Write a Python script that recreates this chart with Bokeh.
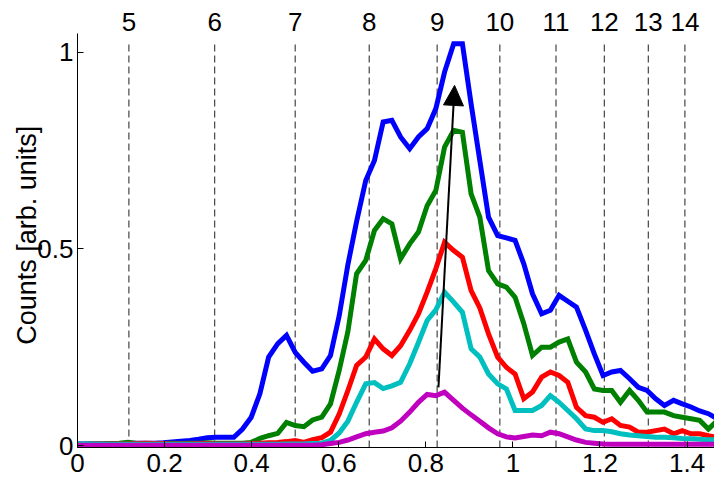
from bokeh.plotting import figure
from bokeh.models import Range1d, FixedTicker, Arrow, NormalHead
from bokeh.core.properties import value
from bokeh.embed import file_html
from bokeh.resources import INLINE

# x grid (shared by all curves)
x = [-0.005, 0.015, 0.035, 0.056, 0.076, 0.096, 0.116, 0.136, 0.157, 0.177,
     0.197, 0.217, 0.237, 0.258, 0.278, 0.298, 0.318, 0.338, 0.359, 0.379,
     0.399, 0.419, 0.439, 0.460, 0.480, 0.500, 0.520, 0.540, 0.561, 0.581,
     0.601, 0.621, 0.641, 0.662, 0.682, 0.702, 0.722, 0.742, 0.763, 0.783,
     0.803, 0.823, 0.843, 0.864, 0.884, 0.904, 0.924, 0.944, 0.965, 0.985,
     1.005, 1.025, 1.045, 1.066, 1.086, 1.106, 1.126, 1.146, 1.167, 1.187,
     1.207, 1.227, 1.247, 1.268, 1.288, 1.308, 1.328, 1.348, 1.369, 1.389,
     1.409, 1.429, 1.449, 1.470]

blue = [0.004, 0.004, 0.004, 0.004, 0.004, 0.004, 0.006, 0.006, 0.006, 0.006,
        0.007, 0.009, 0.011, 0.013, 0.016, 0.020, 0.021, 0.021, 0.021, 0.042,
        0.072, 0.132, 0.225, 0.259, 0.280, 0.237, 0.212, 0.189, 0.195, 0.229,
        0.330, 0.460, 0.570, 0.674, 0.725, 0.823, 0.827, 0.785, 0.755, 0.785,
        0.806, 0.857, 0.950, 1.022, 1.022, 0.869, 0.725, 0.581, 0.534, 0.528,
        0.522, 0.462, 0.386, 0.335, 0.344, 0.382, 0.367, 0.352, 0.293, 0.233,
        0.178, 0.187, 0.191, 0.170, 0.148, 0.140, 0.119, 0.102, 0.115, 0.106,
        0.098, 0.088, 0.081, 0.068]

green = [0.003, 0.003, 0.004, 0.004, 0.005, 0.006, 0.008, 0.005, 0.004, 0.005,
         0.005, 0.006, 0.005, 0.006, 0.006, 0.007, 0.006, 0.006, 0.006, 0.006,
         0.008, 0.018, 0.025, 0.031, 0.059, 0.051, 0.048, 0.065, 0.072, 0.106,
         0.191, 0.290, 0.437, 0.471, 0.547, 0.577, 0.564, 0.475, 0.513, 0.543,
         0.610, 0.649, 0.759, 0.802, 0.797, 0.640, 0.581, 0.445, 0.411, 0.403,
         0.377, 0.310, 0.229, 0.250, 0.250, 0.263, 0.271, 0.212, 0.187, 0.144,
         0.140, 0.140, 0.110, 0.140, 0.115, 0.085, 0.085, 0.085, 0.076, 0.072,
         0.068, 0.064, 0.042, 0.064]

red = [0.002, 0.002, 0.003, 0.003, 0.004, 0.004, 0.004, 0.005, 0.006, 0.005,
       0.005, 0.004, 0.004, 0.004, 0.005, 0.005, 0.004, 0.004, 0.004, 0.004,
       0.005, 0.006, 0.007, 0.008, 0.010, 0.013, 0.008, 0.015, 0.020, 0.034,
       0.080, 0.140, 0.204, 0.225, 0.271, 0.246, 0.229, 0.254, 0.293, 0.335,
       0.390, 0.450, 0.517, 0.496, 0.479, 0.394, 0.350, 0.284, 0.225, 0.199,
       0.182, 0.119, 0.136, 0.174, 0.187, 0.178, 0.161, 0.097, 0.076, 0.072,
       0.059, 0.068, 0.051, 0.047, 0.034, 0.034, 0.038, 0.042, 0.030, 0.038,
       0.030, 0.030, 0.025, 0.021]

cyan = [0.003, 0.003, 0.003, 0.003, 0.003, 0.003, 0.003, 0.003, 0.003, 0.003,
        0.003, 0.003, 0.003, 0.003, 0.003, 0.003, 0.003, 0.003, 0.003, 0.003,
        0.003, 0.003, 0.003, 0.003, 0.004, 0.004, 0.004, 0.005, 0.006, 0.013,
        0.032, 0.062, 0.110, 0.157, 0.160, 0.145, 0.152, 0.161, 0.208, 0.262,
        0.318, 0.345, 0.390, 0.365, 0.339, 0.246, 0.225, 0.182, 0.157, 0.144,
        0.089, 0.089, 0.089, 0.102, 0.127, 0.110, 0.089, 0.068, 0.042, 0.038,
        0.038, 0.035, 0.030, 0.027, 0.025, 0.023, 0.021, 0.021, 0.020, 0.018,
        0.017, 0.016, 0.015, 0.015]

magenta = [0.001, 0.001, 0.001, 0.001, 0.001, 0.001, 0.001, 0.001, 0.001, 0.001,
           0.001, 0.001, 0.001, 0.001, 0.001, 0.001, 0.001, 0.001, 0.001, 0.001,
           0.001, 0.001, 0.001, 0.001, 0.001, 0.001, 0.001, 0.001, 0.002, 0.005,
           0.008, 0.014, 0.022, 0.030, 0.034, 0.037, 0.045, 0.062, 0.085, 0.110,
           0.130, 0.127, 0.136, 0.115, 0.095, 0.078, 0.062, 0.045, 0.030, 0.022,
           0.019, 0.023, 0.027, 0.025, 0.034, 0.030, 0.022, 0.014, 0.008, 0.006,
           0.004, 0.003, 0.003, 0.003, 0.003, 0.003, 0.003, 0.003, 0.003, 0.003,
           0.003, 0.003, 0.003, 0.003]

series = [("#0000ff", blue), ("#008000", green), ("#ff0000", red),
          ("#00bfbf", cyan), ("#bf00bf", magenta)]

# dashed level markers and their labels
level_x = [0.118, 0.315, 0.500, 0.670, 0.826, 0.970, 1.099, 1.210, 1.311, 1.395]
level_labels = ["5", "6", "7", "8", "9", "10", "11", "12", "13", "14"]

# arrow (start -> end)
arrow_start = (0.829, 0.148)
arrow_end = (0.866, 0.916)

x_ticks = [0, 0.2, 0.4, 0.6, 0.8, 1.0, 1.2, 1.4]
x_tick_labels = ["0", "0.2", "0.4", "0.6", "0.8", "1", "1.2", "1.4"]
y_ticks = [0, 0.5, 1.0]
y_tick_labels = ["0", "0.5", "1"]
y_label = "Counts [arb. units]"

FONT = "Liberation Sans"
FSIZE = "26px"

p = figure(width=714, height=483, output_backend="svg", toolbar_location=None,
           x_range=Range1d(0, 1.463), y_range=Range1d(-0.005, 1.132),
           min_border_left=77, min_border_right=0, min_border_top=0,
           min_border_bottom=36)
p.outline_line_color = None
p.xgrid.visible = False
p.ygrid.visible = False
p.background_fill_color = "white"
p.border_fill_color = "white"

p.segment(x0=level_x, y0=[-0.005] * len(level_x), x1=level_x,
          y1=[1.03] * len(level_x), line_color="#444444", line_width=1.2,
          line_dash="7 4")

for color, ys in series:
    p.line(x, ys, line_color=color, line_width=5, line_join="miter")

p.text(x=level_x, y=[1.078] * len(level_x), text=level_labels,
       text_font=value(FONT), text_font_size=FSIZE, text_align="center",
       text_baseline="middle", text_color="black")

p.add_layout(Arrow(end=NormalHead(size=20, fill_color="black", line_color="black"),
                   x_start=arrow_start[0], y_start=arrow_start[1],
                   x_end=arrow_end[0], y_end=arrow_end[1],
                   line_color="black", line_width=2))

for ax in (p.xaxis[0], p.yaxis[0]):
    ax.major_tick_in = 6
    ax.major_tick_out = 0
    ax.minor_tick_line_color = None
    ax.axis_line_color = "black"
    ax.major_tick_line_color = "black"
    ax.major_label_text_font = FONT
    ax.major_label_text_font_size = FSIZE
    ax.major_label_text_color = "black"

p.xaxis[0].ticker = FixedTicker(ticks=x_ticks)
p.xaxis[0].major_label_overrides = dict(zip(x_ticks, x_tick_labels))
p.xaxis[0].major_label_standoff = 6
p.yaxis[0].ticker = FixedTicker(ticks=y_ticks)
p.yaxis[0].major_label_overrides = dict(zip(y_ticks, y_tick_labels))
p.yaxis[0].major_label_standoff = 4
p.yaxis[0].bounds = (-0.005, 1.048)
# trailing non-breaking spaces nudge the centred label down to match the reference
p.yaxis[0].axis_label = y_label + "\u00a0\u00a0\u00a0"
p.yaxis[0].axis_label_text_font = FONT
p.yaxis[0].axis_label_text_font_size = "27px"
p.yaxis[0].axis_label_text_font_style = "normal"
p.yaxis[0].axis_label_text_color = "black"
p.yaxis[0].axis_label_standoff = -8

open("out.html", "w").write(file_html(p, INLINE))
